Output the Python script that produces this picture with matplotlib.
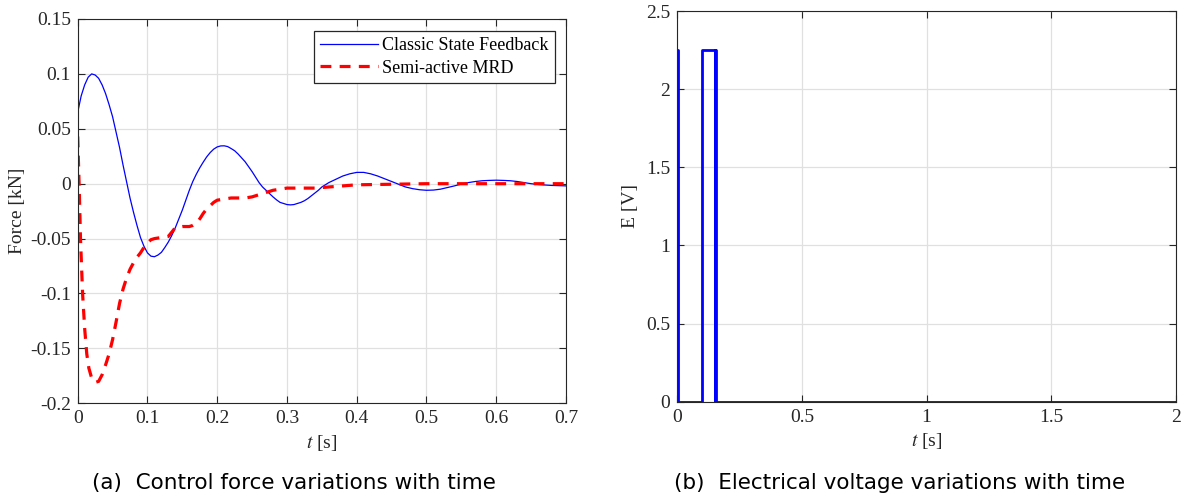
import matplotlib
matplotlib.use("Agg")
import matplotlib.pyplot as plt

plt.rcParams["mathtext.fontset"] = "stix"

# ---- data: left panel (control force, kN) ----
t_csf = [0.000, 0.005, 0.010, 0.015, 0.020, 0.025, 0.030, 0.035, 0.040, 0.045,
         0.050, 0.055, 0.060, 0.065, 0.070, 0.075, 0.080, 0.085, 0.090, 0.095,
         0.100, 0.105, 0.110, 0.115, 0.120, 0.125, 0.130, 0.135, 0.140, 0.145,
         0.150, 0.155, 0.160, 0.165, 0.170, 0.175, 0.180, 0.185, 0.190, 0.195,
         0.200, 0.205, 0.210, 0.215, 0.220, 0.225, 0.230, 0.235, 0.240, 0.245,
         0.250, 0.255, 0.260, 0.265, 0.270, 0.275, 0.280, 0.285, 0.290, 0.295,
         0.300, 0.305, 0.310, 0.315, 0.320, 0.325, 0.330, 0.335, 0.340, 0.345,
         0.350, 0.355, 0.360, 0.370, 0.380, 0.390,
         0.400, 0.410, 0.420, 0.430, 0.440, 0.450, 0.460, 0.470, 0.480, 0.490,
         0.500, 0.510, 0.520, 0.530, 0.540, 0.550, 0.560, 0.570, 0.580, 0.590,
         0.600, 0.610, 0.620, 0.630, 0.640, 0.650, 0.660, 0.670, 0.680, 0.690, 0.700]
f_csf = [0.065, 0.080, 0.090, 0.097, 0.100, 0.099, 0.096, 0.090, 0.082, 0.072,
         0.061, 0.047, 0.033, 0.017, 0.002, -0.013, -0.026, -0.038, -0.049, -0.057,
         -0.063, -0.066, -0.0665, -0.065, -0.0625, -0.058, -0.053, -0.047, -0.040, -0.032,
         -0.024, -0.015, -0.006, 0.002, 0.0086, 0.0145, 0.0197, 0.0245, 0.0284, 0.0315,
         0.0335, 0.0344, 0.0345, 0.0338, 0.032, 0.030, 0.027, 0.0235, 0.020, 0.0155,
         0.011, 0.006, 0.001, -0.003, -0.006, -0.009, -0.012, -0.0147, -0.017, -0.018,
         -0.019, -0.0193, -0.019, -0.018, -0.017, -0.0155, -0.0135, -0.011, -0.0085, -0.006,
         -0.003, -0.001, 0.001, 0.004, 0.007, 0.009,
         0.0103, 0.0103, 0.009, 0.007, 0.0045, 0.002, -0.0005, -0.003, -0.0045, -0.0055,
         -0.006, -0.0058, -0.005, -0.0035, -0.002, -0.0003, 0.001, 0.002, 0.0027, 0.003,
         0.0032, 0.003, 0.0027, 0.002, 0.001, 0.0, -0.0007, -0.0012, -0.0016, -0.0018, -0.002]

t_mrd = [0.000, 0.002, 0.004, 0.007, 0.010, 0.013, 0.016, 0.020, 0.025, 0.030,
         0.035, 0.040, 0.045, 0.050, 0.055, 0.060, 0.065, 0.070, 0.075, 0.080,
         0.085, 0.090, 0.095, 0.100, 0.105, 0.110, 0.120, 0.130, 0.135, 0.140,
         0.150, 0.160, 0.165, 0.170, 0.175, 0.180, 0.185, 0.190, 0.195, 0.200,
         0.210, 0.220, 0.230, 0.240, 0.250, 0.260, 0.270, 0.280, 0.290, 0.300,
         0.320, 0.340, 0.360, 0.380, 0.400, 0.450, 0.500, 0.600, 0.700]
f_mrd = [0.043, 0.000, -0.050, -0.100, -0.132, -0.155, -0.168, -0.177, -0.181, -0.180,
         -0.174, -0.165, -0.155, -0.142, -0.126, -0.109, -0.096, -0.086, -0.078, -0.072,
         -0.067, -0.063, -0.058, -0.054, -0.051, -0.050, -0.049, -0.048, -0.044, -0.040,
         -0.039, -0.039, -0.038, -0.036, -0.032, -0.027, -0.023, -0.020, -0.017, -0.015,
         -0.014, -0.013, -0.013, -0.013, -0.012, -0.010, -0.008, -0.006, -0.005, -0.004,
         -0.004, -0.004, -0.003, -0.002, -0.001, -0.0005, 0.0, 0.0, 0.0]

left_yticks = [-0.2, -0.15, -0.1, -0.05, 0, 0.05, 0.1, 0.15]
left_yticklabels = ["-0.2", "-0.15", "-0.1", "-0.05", "0", "0.05", "0.1", "0.15"]
left_xticks = [0, 0.1, 0.2, 0.3, 0.4, 0.5, 0.6, 0.7]
left_xticklabels = ["0", "0.1", "0.2", "0.3", "0.4", "0.5", "0.6", "0.7"]

# ---- data: right panel (electrical voltage, V) ----
t_volt = [0.0, 0.001, 0.100, 0.150, 0.153, 0.156, 2.0]
e_volt = [2.25, 0.0, 2.25, 0.0, 2.25, 0.0, 0.0]

right_yticks = [0, 0.5, 1, 1.5, 2, 2.5]
right_yticklabels = ["0", "0.5", "1", "1.5", "2", "2.5"]
right_xticks = [0, 0.5, 1, 1.5, 2]
right_xticklabels = ["0", "0.5", "1", "1.5", "2"]

serif = ["Liberation Serif", "DejaVu Serif"]
tick_fs = 14
label_fs = 14
text_col = "#262626"
axis_col = "#262626"
grid_col = "#e0e0e0"

fig = plt.figure(figsize=(11.85, 5.01), dpi=100)
axL = fig.add_axes([77.7 / 1185, 1 - 403.3 / 501, (566 - 77.7) / 1185, (403.3 - 19) / 501])
axR = fig.add_axes([677.3 / 1185, 1 - 401.7 / 501, (1176 - 677.3) / 1185, (401.7 - 11) / 501])

def style(ax):
    ax.grid(True, color=grid_col, linewidth=0.9)
    ax.set_axisbelow(True)
    ax.tick_params(direction="in", top=True, right=True, length=5, width=0.8,
                   colors=axis_col, labelcolor=text_col, labelsize=tick_fs, pad=5)
    for s in ax.spines.values():
        s.set_color(axis_col)
        s.set_linewidth(0.8)
    for lab in ax.get_xticklabels() + ax.get_yticklabels():
        lab.set_fontfamily(serif)

# Left panel
axL.plot(t_csf, f_csf, color="#0000ff", linewidth=0.9, label="Classic State Feedback")
axL.plot(t_mrd, f_mrd, color="#ff0000", linewidth=2.3, linestyle=(0, (3.4, 2.6)),
         label="Semi-active MRD")
axL.set_xlim(0, 0.7)
axL.set_ylim(-0.2, 0.15)
axL.set_xticks(left_xticks)
axL.set_xticklabels(left_xticklabels)
axL.set_yticks(left_yticks)
axL.set_yticklabels(left_yticklabels)
style(axL)
axL.set_xlabel(r"$t$ [s]", fontsize=label_fs, family=serif, color=text_col, labelpad=4)
axL.set_ylabel("Force [kN]", fontsize=label_fs, family=serif, color=text_col, labelpad=3)
leg = axL.legend(loc="upper right", prop={"family": serif, "size": 13},
                 frameon=True, fancybox=False, edgecolor="#262626", framealpha=1,
                 handlelength=3.2, handletextpad=0.25, borderpad=0.35, labelspacing=0.3,
                 borderaxespad=0, bbox_to_anchor=(1 - 11 / 488.3, 1 - 12 / 384.3))
leg.get_frame().set_linewidth(0.9)

# Right panel
axR.plot(t_volt, e_volt, color="#0000ff", linewidth=2.0, drawstyle="steps-post")
axR.set_xlim(0, 2)
axR.set_ylim(0, 2.5)
axR.set_xticks(right_xticks)
axR.set_xticklabels(right_xticklabels)
axR.set_yticks(right_yticks)
axR.set_yticklabels(right_yticklabels)
style(axR)
axR.set_xlabel(r"$t$ [s]", fontsize=label_fs, family=serif, color=text_col, labelpad=4)
axR.set_ylabel("E [V]", fontsize=label_fs, family=serif, color=text_col, labelpad=5)

# Captions
fig.text(294 / 1185, 1 - 483 / 501, "(a)  Control force variations with time",
         ha="center", va="center", fontsize=15.5, family="DejaVu Sans", color="#000000")
fig.text(900 / 1185, 1 - 483 / 501, "(b)  Electrical voltage variations with time",
         ha="center", va="center", fontsize=15.5, family="DejaVu Sans", color="#000000")

fig.savefig("out.png", dpi=100)
